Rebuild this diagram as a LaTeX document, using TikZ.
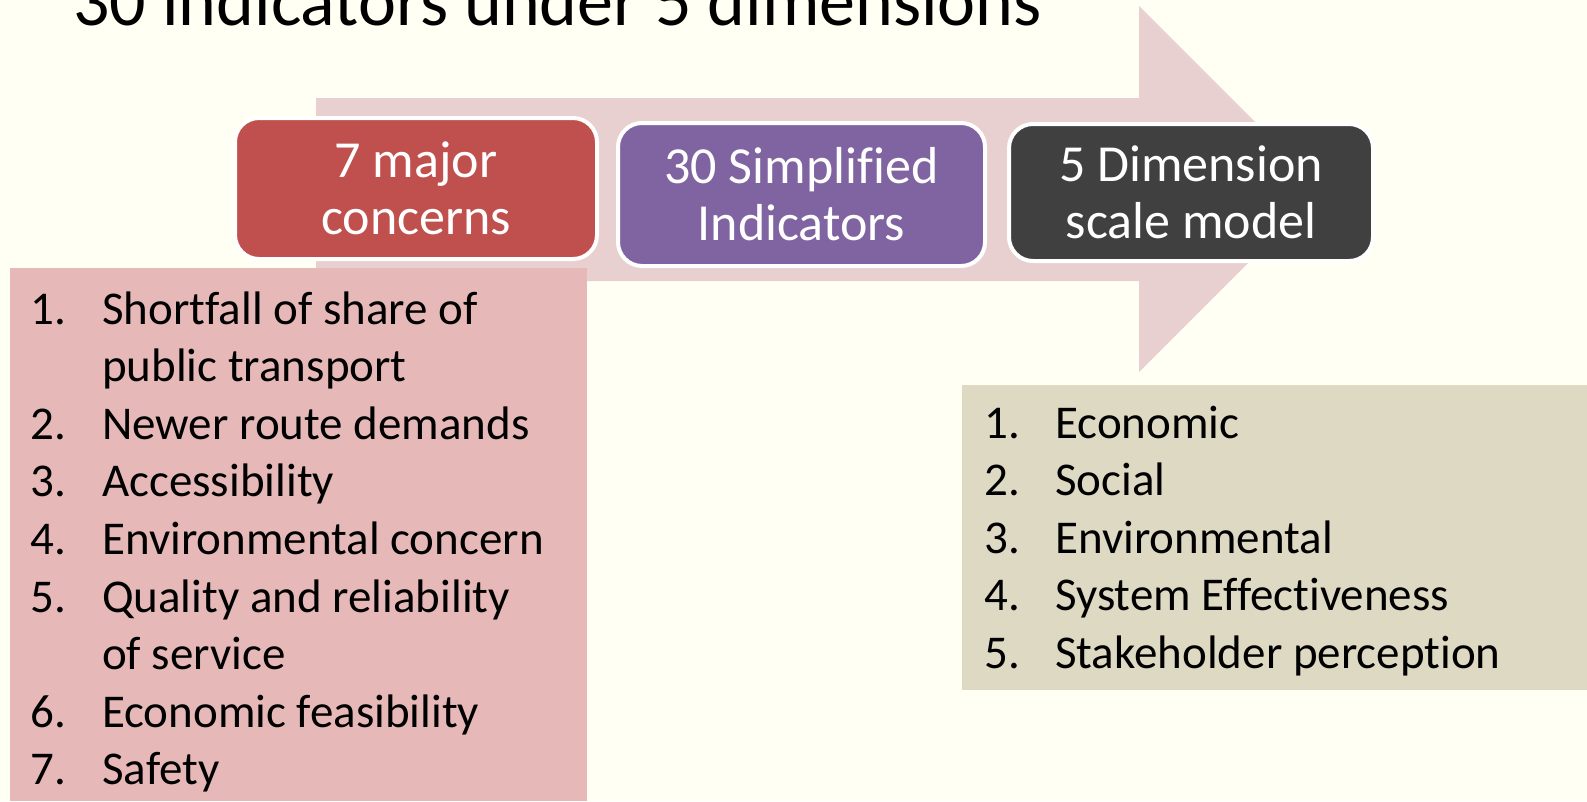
\documentclass[tikz,border=0pt]{standalone}
\usepackage{fontspec}
\setmainfont[Ligatures={NoCommon,NoContextual}]{Carlito}
\usepackage{array}

\definecolor{paper}{HTML}{FFFFF3}
\definecolor{flowpink}{HTML}{E8D0D1}
\definecolor{concernred}{HTML}{C0504D}
\definecolor{indicatorpurple}{HTML}{8064A2}
\definecolor{modelgrey}{HTML}{404040}
\definecolor{concernpink}{HTML}{E6B9B8}
\definecolor{dimensionbeige}{HTML}{DDD9C3}

\tikzset{
  stage/.style={draw=white, line width=4pt, rounded corners=24pt, text=white,
    align=center, inner sep=0pt, font=\fontsize{52}{57}\selectfont},
  itemlist/.style={anchor=base west, inner sep=0pt, font=\fontsize{47}{57.6}\selectfont}
}

\begin{document}
\begin{tikzpicture}[x=1pt,y=-1pt]

% Page, one px of the slide per pt, y running downwards
\useasboundingbox[fill=paper] (0,0) rectangle (1587,801);

% Heading, its top cut off by the page
\node (heading) [anchor=base west, inner sep=0pt, font=\fontsize{72}{80}\selectfont] at (73,25)
  {30 indicators under 5 dimensions};

% Big arrow behind the three stages
\fill [flowpink] (316,98) -- (1139,98) -- (1139,6) -- (1322,189)
  -- (1139,372) -- (1139,281) -- (316,281) -- cycle;

% Backgrounds of the two lists
\fill [concernpink] (10,268) rectangle (587,801);
\fill [dimensionbeige] (962,385) rectangle (1587,690);

% The three stages
\node (concerns) [stage, fill=concernred, minimum width=362pt, minimum height=141pt]
  at (416,188.5) {7 major\\concerns};
\node (indicators) [stage, fill=indicatorpurple, minimum width=367pt, minimum height=143pt]
  at (801.5,194.5) {30 Simplified\\Indicators};
\node (model) [stage, fill=modelgrey, minimum width=364pt, minimum height=137pt]
  at (1191,192.5) {5 Dimension\\scale model};

% List of concerns
\node (concernlist) [itemlist] at (30,324) {%
  \begin{tabular}[t]{@{}p{72pt}@{}l@{}}
  1. & Shortfall of share of\\
     & public transport\\
  2. & Newer route demands\\
  3. & Accessibility\\
  4. & Environmental concern\\
  5. & Quality and reliability\\
     & of service\\
  6. & Economic feasibility\\
  7. & Safety
  \end{tabular}};

% List of dimensions
\node (dimensionlist) [itemlist] at (984,438) {%
  \begin{tabular}[t]{@{}p{71pt}@{}l@{}}
  1. & Economic\\
  2. & Social\\
  3. & Environmental\\
  4. & System Effectiveness\\
  5. & Stakeholder perception
  \end{tabular}};

\end{tikzpicture}
\end{document}
